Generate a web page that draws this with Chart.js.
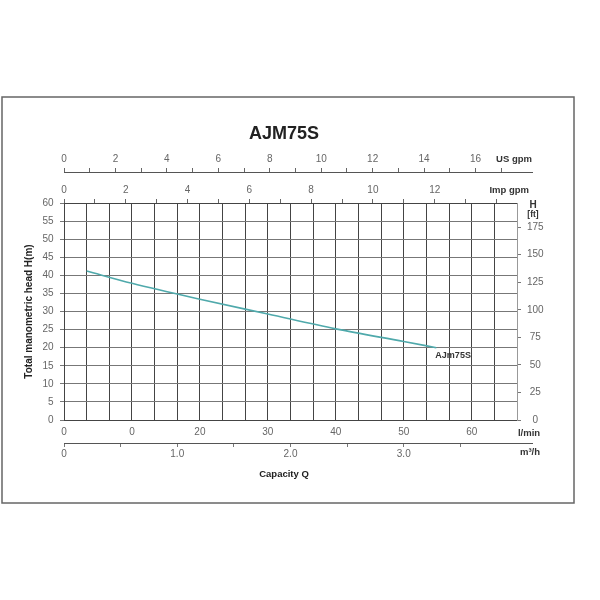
<!DOCTYPE html>
<html><head><meta charset="utf-8">
<script src="https://cdn.jsdelivr.net/npm/chart.js@4/dist/chart.umd.min.js"></script>
<style>html,body{margin:0;padding:0;background:#fff}</style>
</head><body><canvas id="c" width="600" height="600"></canvas>
<script>
// ---- data ----
const chartTitle = 'AJM75S';
const seriesName = 'AJm75S';
const flowLmin = [3.33, 10, 20, 30, 40, 50, 54.8];
const headM    = [41.2, 37.8, 33.4, 29.3, 25.2, 21.7, 20.0];

// ---- axis ticks / labels ----
const lminGrid = [0, 10/3, 20/3, 10, 40/3, 50/3, 20, 70/3, 80/3, 30, 100/3, 110/3, 40, 130/3, 140/3, 50, 160/3, 170/3, 60, 190/3, 200/3];
const lminLabelValues = [0, 10, 20, 30, 40, 50, 60];
const lminLabels = ['0', '0', '20', '30', '40', '50', '60'];
const headTicks = [0, 5, 10, 15, 20, 25, 30, 35, 40, 45, 50, 55, 60];
const ftTicks = [0, 25, 50, 75, 100, 125, 150, 175];
const usTicks = [0, 1, 2, 3, 4, 5, 6, 7, 8, 9, 10, 11, 12, 13, 14, 15, 16, 17];
const usLabelValues = [0, 2, 4, 6, 8, 10, 12, 14, 16];
const usLabels = ['0', '2', '4', '6', '8', '10', '12', '14', '16'];
const impTicks = [0, 1, 2, 3, 4, 5, 6, 7, 8, 9, 10, 11, 12, 13, 14];
const impLabelValues = [0, 2, 4, 6, 8, 10, 12];
const impLabels = ['0', '2', '4', '6', '8', '10', '12'];
const m3hTicks = [0, 0.5, 1, 1.5, 2, 2.5, 3, 3.5];
const m3hLabelValues = [0, 1, 2, 3];
const m3hLabels = ['0', '1.0', '2.0', '3.0'];

// unit conversions
const LMIN_MAX = 200 / 3;
const M_TO_FT = 3.28084;
const US_GAL = 3.78541;
const IMP_GAL = 4.54609;
const LMIN_TO_M3H = 0.06;

Chart.defaults.font.family = '"Liberation Sans", Arial, sans-serif';

function labeler(values, labels) {
  return (v) => {
    const k = values.findIndex(t => Math.abs(t - v) < 1e-6);
    return k >= 0 ? labels[k] : '';
  };
}
function setTicks(arr) { return (a) => { a.ticks = arr.map(v => ({ value: v })); }; }
const tickFont = { size: 10 };
const tickColor = '#666';

const decor = {
  id: 'decor',
  beforeDraw(chart) {
    const ctx = chart.ctx;
    ctx.save();
    ctx.fillStyle = '#fff';
    ctx.fillRect(0, 0, chart.width, chart.height);
    ctx.restore();
  },
  afterDraw(chart) {
    const { ctx, chartArea, scales } = chart;
    ctx.save();
    // outer frame
    ctx.strokeStyle = '#666';
    ctx.lineWidth = 1.5;
    ctx.strokeRect(2, 97, 572, 406);
    // extend secondary axis lines beyond plot
    ctx.strokeStyle = '#555';
    ctx.lineWidth = 1;
    const yUS = Math.round(scales.x2.bottom) + 0.5;
    const yM3 = Math.round(scales.x4.top) + 0.5;
    ctx.beginPath();
    ctx.moveTo(chartArea.right, yUS); ctx.lineTo(533, yUS);
    ctx.moveTo(chartArea.right, yM3); ctx.lineTo(533, yM3);
    ctx.stroke();
    // unit labels
    ctx.fillStyle = '#333';
    ctx.textBaseline = 'middle';
    ctx.font = 'bold 9.5px "Liberation Sans", Arial, sans-serif';
    ctx.textAlign = 'right';
    ctx.fillText('US gpm', 532, 159);
    ctx.fillText('Imp gpm', 529, 190);
    ctx.textAlign = 'center';
    ctx.fillText('l/min', 529, 433);
    ctx.fillText('m³/h', 530, 452);
    ctx.font = 'bold 10px "Liberation Sans", Arial, sans-serif';
    ctx.fillText('H', 533, 205);
    ctx.font = 'bold 8.5px "Liberation Sans", Arial, sans-serif';
    ctx.fillText('[ft]', 533, 215);
    // series label at end of curve
    const n = flowLmin.length - 1;
    const px = scales.x.getPixelForValue(flowLmin[n]);
    const py = scales.y.getPixelForValue(headM[n]);
    ctx.font = 'bold 9px "Liberation Sans", Arial, sans-serif';
    ctx.textAlign = 'left';
    ctx.fillStyle = '#333';
    ctx.fillText(seriesName, px - 1, py + 7.5);
    ctx.restore();
  }
};

new Chart(document.getElementById('c'), {
  type: 'line',
  data: {
    datasets: [{
      label: seriesName,
      data: flowLmin.map((x, i) => ({ x: x, y: headM[i] })),
      borderColor: '#4fa9ab',
      borderWidth: 1.6,
      pointRadius: 0,
      fill: false,
      tension: 0.4,
      cubicInterpolationMode: 'monotone',
      xAxisID: 'x',
      yAxisID: 'y'
    }]
  },
  options: {
    responsive: false,
    animation: false,
    devicePixelRatio: 1,
    layout: { padding: { left: 0, right: 32, top: 0, bottom: 0 } },
    plugins: {
      legend: { display: false },
      tooltip: { enabled: false },
      title: {
        display: true, text: chartTitle, color: '#222',
        font: { size: 18, weight: 'bold' },
        padding: { top: 123, bottom: 0 }
      },
      subtitle: {
        display: true, position: 'bottom', text: 'Capacity Q', color: '#222',
        font: { size: 9.5, weight: 'bold' },
        padding: { top: 0, bottom: 120.3 }
      }
    },
    scales: {
      x: {
        type: 'linear', position: 'bottom', min: 0, max: LMIN_MAX, weight: 1,
        afterFit: (a) => { a.height = 23; },
        afterBuildTicks: setTicks(lminGrid),
        ticks: { autoSkip: false, maxRotation: 0, padding: 6.5, color: tickColor, font: tickFont,
                 callback: labeler(lminLabelValues, lminLabels) },
        grid: { drawTicks: false, lineWidth: 1,
                color: (c) => (c.index === lminGrid.length - 1 ? '#aaa' : '#444') },
        border: { display: true, color: '#444' }
      },
      x4: {
        type: 'linear', position: 'bottom', min: 0, max: LMIN_MAX * LMIN_TO_M3H, weight: 2,
        afterFit: (a) => { a.height = 25.3; },
        afterBuildTicks: setTicks(m3hTicks),
        ticks: { autoSkip: false, maxRotation: 0, padding: 1, color: tickColor, font: tickFont,
                 callback: labeler(m3hLabelValues, m3hLabels) },
        grid: { drawOnChartArea: false, drawTicks: true, tickLength: 4, color: '#777' },
        border: { display: true, color: '#555' }
      },
      x3: {
        type: 'linear', position: 'top', min: 0, max: LMIN_MAX / IMP_GAL, weight: 1,
        afterFit: (a) => { a.height = 31; },
        afterBuildTicks: setTicks(impTicks),
        ticks: { autoSkip: false, maxRotation: 0, padding: 3, color: tickColor, font: tickFont,
                 callback: labeler(impLabelValues, impLabels) },
        grid: { drawOnChartArea: false, drawTicks: true, tickLength: 4, color: '#666' },
        border: { display: true, color: '#444' }
      },
      x2: {
        type: 'linear', position: 'top', min: 0, max: LMIN_MAX / US_GAL, weight: 2,
        afterFit: (a) => { a.height = 27.4; },
        afterBuildTicks: setTicks(usTicks),
        ticks: { autoSkip: false, maxRotation: 0, padding: 3, color: tickColor, font: tickFont,
                 callback: labeler(usLabelValues, usLabels) },
        grid: { drawOnChartArea: false, drawTicks: true, tickLength: 4, color: '#666' },
        border: { display: true, color: '#555' }
      },
      y: {
        type: 'linear', position: 'left', min: 0, max: 60, weight: 1,
        afterFit: (a) => { a.width = 64; },
        afterBuildTicks: setTicks(headTicks),
        ticks: { autoSkip: false, padding: 6.5, color: tickColor, font: tickFont },
        grid: { color: '#777', lineWidth: 1, drawTicks: true, tickLength: 4 },
        border: { display: true, color: '#444' },
        title: { display: true, text: 'Total manometric head H(m)', color: '#222',
                 font: { size: 10, weight: 'bold' }, padding: { top: 23.5, bottom: 0 } }
      },
      y2: {
        type: 'linear', position: 'right', min: 0, max: 60 * M_TO_FT, weight: 1,
        afterFit: (a) => { a.width = 51; },
        afterBuildTicks: setTicks(ftTicks),
        ticks: { autoSkip: false, padding: 6, crossAlign: 'center', color: tickColor, font: tickFont },
        grid: { drawOnChartArea: false, drawTicks: true, tickLength: 4, color: '#777' },
        border: { display: true, color: '#999' }
      }
    }
  },
  plugins: [decor]
});
</script>
</body></html>
